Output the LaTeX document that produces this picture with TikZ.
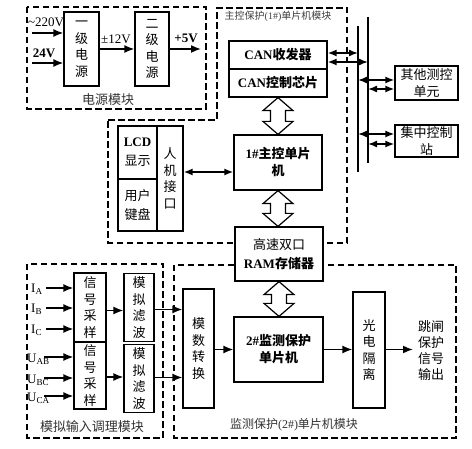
\documentclass[tikz,border=0pt]{standalone}
\usepackage{fontspec}
\setmainfont{Liberation Serif}
\newfontfamily\cjk{Noto Sans CJK SC}
\usetikzlibrary{arrows.meta,calc}
\newcommand\hollowarrow[2]{%
  \draw[line width=1.2pt,fill=white,line join=miter] let \p1=(#1), \p2=(#2) in
  (\x1,\y1) -- (\x1+15pt,\y1-13pt) -- (\x1+7.5pt,\y1-13pt) -- (\x1+7.5pt,\y2+13pt)
  -- (\x1+15pt,\y2+13pt) -- (\x1,\y2) -- (\x1-15pt,\y2+13pt) -- (\x1-7.5pt,\y2+13pt)
  -- (\x1-7.5pt,\y1-13pt) -- (\x1-15pt,\y1-13pt) -- cycle;}
\tikzset{
  box/.style={draw,line width=1.2pt,fill=white,inner sep=0pt,align=center,
    font=\fontsize{13}{16.5}\selectfont\cjk},
  boldbox/.style={box,font=\fontsize{13}{17}\selectfont\cjk\bfseries},
  region/.style={draw,line width=1.2pt,dash pattern=on 6.5pt off 3.5pt},
  arr/.style={line width=1.6pt,-{Latex[length=10pt,width=8pt]}},
  darr/.style={line width=1.6pt,{Latex[length=9pt,width=7pt]}-{Latex[length=9pt,width=7pt]}},
  bus/.style={line width=2.3pt},
  lbl/.style={inner sep=0pt,font=\fontsize{13}{16}\selectfont},
  zhlbl/.style={inner sep=0pt,align=center,font=\fontsize{13}{16}\selectfont\cjk},
  modlbl/.style={inner sep=0pt,text=black!80,font=\fontsize{13}{16}\selectfont\cjk},
}
\begin{document}
\begin{tikzpicture}[x=1pt,y=-1pt]
\useasboundingbox[fill=white] (0,0) rectangle (472,449);

% ---------- dashed module regions ----------
\draw[region] (27,7) rectangle (206,109);
\draw[region] (108,120) -- (217,120) -- (217,8) -- (347,8) -- (347,243) -- (108,243) -- cycle;
\draw[region] (27,264) rectangle (163,438);
\draw[region] (174,265) rectangle (456,438);

\node[modlbl] (lpow) at (108,100) {电源模块};
\node[inner sep=0pt,text=black!75,font=\fontsize{10}{12}\selectfont\cjk] (lmain) at (278,16)
  {主控保护{\rmfamily(1\#)}单片机模块};
\node[modlbl] (lana) at (92,427) {模拟输入调理模块};
\node[modlbl,font=\fontsize{12}{14}\selectfont\cjk] (lmon) at (294,425) {监测保护{\rmfamily(2\#)}单片机模块};

% ---------- power module ----------
\node[box,minimum width=35,minimum height=74] (p1) at (81.5,49) {一\\级\\电\\源};
\node[box,minimum width=34,minimum height=74] (p2) at (152,49) {二\\级\\电\\源};
\coordinate (in220) at (32,33);
\coordinate (in24) at (32,63);
\coordinate (out5) at (201,49);
\draw[arr] (in220) -- (in220 -| p1.west);
\draw[arr] (in24) -- (in24 -| p1.west);
\draw[arr] (p1.east) -- (p2.west);
\draw[arr] (p2.east) -- (out5);
\node[lbl] (l220) at (46,22) {\textasciitilde 220V};
\node[lbl,font=\fontsize{13}{16}\selectfont\bfseries] (l24) at (44,53) {24V};
\node[lbl] (l12) at (116,39) {±12V};
\node[lbl,font=\fontsize{13}{16}\selectfont\bfseries] (l5) at (186,38) {+5V};

% ---------- main control module ----------
\node[boldbox,minimum width=98,minimum height=28] (can1) at (278,55) {{\rmfamily CAN}收发器};
\node[boldbox,minimum width=98,minimum height=28] (can2) at (278,83) {{\rmfamily CAN}控制芯片};
\node[boldbox,minimum width=88,minimum height=55] (mcu1) at (278,162.5) {{\rmfamily 1\#}主控单片\\机};
\node[box,font=\fontsize{13}{19}\selectfont\cjk,minimum width=39,minimum height=53] (lcd) at (137.5,152.5)
  {{\rmfamily\bfseries LCD}\\显示};
\node[box,font=\fontsize{13}{19}\selectfont\cjk,minimum width=39,minimum height=52] (kb) at (137.5,205) {用户\\键盘};
\node[box,minimum width=26,minimum height=105] (hmi) at (170,178.5) {人\\机\\接\\口};
\node[box,font=\fontsize{13}{19.5}\selectfont\cjk,minimum width=88,minimum height=54] (ram) at (279,254)
  {高速双口\\{\rmfamily\bfseries RAM}{\bfseries 存储器}};
\draw[darr] ([yshift=-9.5pt]mcu1.west -| hmi.east) -- ([yshift=-9.5pt]mcu1.west);

% ---------- CAN bus ----------
\node[box,minimum width=63,minimum height=34] (other) at (426.5,83) {其他测控\\单元};
\node[box,minimum width=63,minimum height=32] (central) at (426.5,141) {集中控制\\站};
\coordinate (b1t) at (358,26); \coordinate (b1b) at (358,172);
\coordinate (b2t) at (368,17); \coordinate (b2b) at (368,163);
\draw[bus] (b1t) -- (b1b);
\draw[bus] (b2t) -- (b2b);
\draw[darr] ([yshift=2pt]can1.east) -- ([yshift=2pt]can1.east -| b1t);
\draw[darr] ([yshift=-7pt]can1.east) -- ([yshift=-7pt]can1.east -| b2t);
\draw[darr] ([yshift=3pt]other.west -| b1t) -- ([yshift=3pt]other.west);
\draw[darr] ([yshift=-6pt]other.west -| b2t) -- ([yshift=-6pt]other.west);
\draw[darr] ([yshift=7pt]central.west -| b1t) -- ([yshift=7pt]central.west);
\draw[darr] ([yshift=-3pt]central.west -| b2t) -- ([yshift=-3pt]central.west);

% ---------- monitoring module ----------
\node[box,minimum width=31,minimum height=119] (adc) at (198.5,348.5) {模\\数\\转\\换};
\node[boldbox,minimum width=89,minimum height=65] (mcu2) at (278.5,349.5) {{\rmfamily 2\#}监测保护\\单片机};
\node[box,minimum width=32,minimum height=116] (opto) at (369,350) {光\\电\\隔\\离};
\node[zhlbl] (out) at (431,351) {跳闸\\保护\\信号\\输出};
\coordinate (outarr) at (413,349.5);
\draw[arr] (adc.east |- mcu2.west) -- (mcu2.west);
\draw[arr] (mcu2.east) -- (opto.west |- mcu2.east);
\draw[arr] (opto.east |- mcu2.east) -- (outarr);

% ---------- hollow double arrows ----------
\hollowarrow{can2.south}{mcu1.north}
\hollowarrow{mcu1.south}{ram.north}
\hollowarrow{ram.south}{mcu2.north}

% ---------- analog input module ----------
\node[box,minimum width=32,minimum height=69] (s1) at (90,307.5) {信\\号\\采\\样};
\node[box,minimum width=32,minimum height=67] (s2) at (90,375.5) {信\\号\\采\\样};
\node[box,minimum width=30,minimum height=68] (f1) at (139,307.5) {模\\拟\\滤\\波};
\node[box,minimum width=30,minimum height=68] (f2) at (139,378.5) {模\\拟\\滤\\波};
\draw[arr] ([yshift=-3pt]s1.east) -- ([yshift=-3pt]s1.east -| f1.west);
\draw[arr] ([yshift=-1.5pt]s2.east) -- ([yshift=-1.5pt]s2.east -| f2.west);
\draw[arr] ([yshift=-2pt]f1.east) -- ([yshift=-2pt]f1.east -| adc.west);
\draw[arr] ([yshift=1pt]f2.east) -- ([yshift=1pt]f2.east -| adc.west);

\coordinate (iA) at (46,288); \coordinate (iB) at (46,308); \coordinate (iC) at (46,329);
\coordinate (uAB) at (44,357); \coordinate (uBC) at (44,378); \coordinate (uCA) at (44,396);
\draw[arr] (iA) -- (iA -| s1.west);
\draw[arr] (iB) -- (iB -| s1.west);
\draw[arr] (iC) -- (iC -| s1.west);
\draw[arr] (uAB) -- (uAB -| s2.west);
\draw[arr] (uBC) -- (uBC -| s2.west);
\draw[arr] (uCA) -- (uCA -| s2.west);
\node[lbl,anchor=west] (lIA) at (31,289) {I\textsubscript{A}};
\node[lbl,anchor=west] (lIB) at (31,309) {I\textsubscript{B}};
\node[lbl,anchor=west] (lIC) at (31,330) {I\textsubscript{C}};
\node[lbl,anchor=west] (lUAB) at (27,359) {U\textsubscript{AB}};
\node[lbl,anchor=west] (lUBC) at (27,380) {U\textsubscript{BC}};
\node[lbl,anchor=west] (lUCA) at (27,398) {U\textsubscript{CA}};
\end{tikzpicture}
\end{document}
